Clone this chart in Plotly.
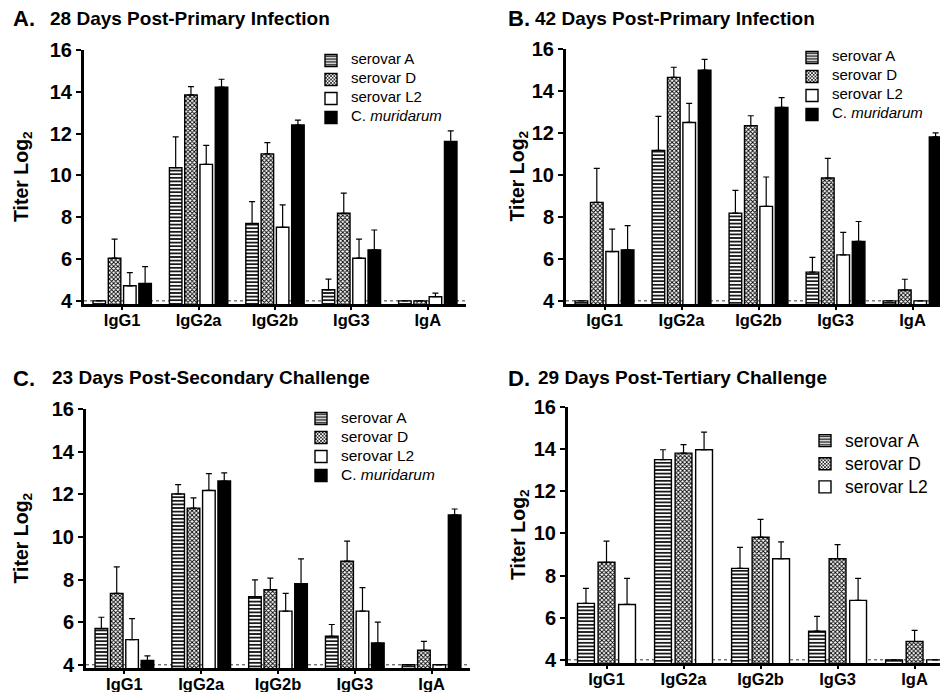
import plotly.graph_objects as go

W, H = 940, 692

categories = ["IgG1", "IgG2a", "IgG2b", "IgG3", "IgA"]
y_ticks = [4, 6, 8, 10, 12, 14, 16]

series_names = ["serovar A", "serovar D", "serovar L2", "C. <i>muridarum</i>"]

# Panel A: 28 Days Post-Primary Infection
a_serA = [4.0, 10.37, 7.70, 4.53, 4.0]
a_serA_err = [None, 1.47, 1.05, 0.51, None]
a_serD = [6.04, 13.85, 11.03, 8.19, 4.0]
a_serD_err = [0.91, 0.40, 0.54, 0.96, None]
a_serL2 = [4.72, 10.53, 7.52, 6.04, 4.2]
a_serL2_err = [0.63, 0.91, 1.07, 0.91, 0.17]
a_cmur = [4.83, 14.22, 12.41, 6.44, 11.62]
a_cmur_err = [0.81, 0.38, 0.24, 0.95, 0.51]

# Panel B: 42 Days Post-Primary Infection
b_serA = [4.0, 11.17, 8.18, 5.37, 4.0]
b_serA_err = [None, 1.62, 1.08, 0.70, None]
b_serD = [8.69, 14.65, 12.35, 9.85, 4.52]
b_serD_err = [1.62, 0.48, 0.47, 0.94, 0.51]
b_serL2 = [6.35, 12.50, 8.50, 6.19, 4.0]
b_serL2_err = [1.07, 0.91, 1.40, 1.07, None]
b_cmur = [6.43, 14.99, 13.22, 6.83, 11.81]
b_cmur_err = [1.15, 0.52, 0.46, 0.95, 0.19]

# Panel C: 23 Days Post-Secondary Challenge
c_serA = [5.70, 12.02, 7.19, 5.34, 4.0]
c_serA_err = [0.53, 0.43, 0.79, 0.55, None]
c_serD = [7.35, 11.35, 7.52, 8.86, 4.68]
c_serD_err = [1.24, 0.48, 0.55, 0.94, 0.42]
c_serL2 = [5.18, 12.18, 6.52, 6.52, 4.0]
c_serL2_err = [0.99, 0.79, 0.83, 1.10, None]
c_cmur = [4.20, 12.62, 7.81, 5.02, 11.03]
c_cmur_err = [0.22, 0.38, 1.16, 0.98, 0.28]

# Panel D: 29 Days Post-Tertiary Challenge
d_serA = [6.68, 13.50, 8.34, 5.36, 4.0]
d_serA_err = [0.71, 0.47, 1.00, 0.70, None]
d_serD = [8.63, 13.81, 9.82, 8.80, 4.87]
d_serD_err = [1.00, 0.40, 0.85, 0.67, 0.53]
d_serL2 = [6.63, 13.97, 8.80, 6.82, 4.0]
d_serL2_err = [1.24, 0.84, 0.80, 1.05, None]

FONT = "Arial, Liberation Sans, Helvetica, sans-serif"

styles = [
    dict(color="white", pattern=dict(shape="-", size=3.6, solidity=0.45, fgcolor="black", bgcolor="white", fillmode="replace")),
    dict(color="white", pattern=dict(shape="x", size=3, solidity=0.5, fgcolor="black", bgcolor="white", fillmode="replace")),
    dict(color="white"),
    dict(color="black"),
]

panels = [
    dict(letter="A.", title="28 Days Post-Primary Infection",
         data=[(a_serA, a_serA_err), (a_serD, a_serD_err), (a_serL2, a_serL2_err), (a_cmur, a_cmur_err)],
         x0=84, x1=466, xr=[-0.5, 4.5], ytop=50, ybot=304,
         lx=311, ly=46, lbase=10, ltext=15, ytx=22,
         tx_letter=11, tx_title=48, ty=19),
    dict(letter="B.", title="42 Days Post-Primary Infection",
         data=[(b_serA, b_serA_err), (b_serD, b_serD_err), (b_serL2, b_serL2_err), (b_cmur, b_cmur_err)],
         x0=566, x1=940, xr=[-0.5, 4.357], ytop=49, ybot=304,
         lx=792, ly=43, lbase=10, ltext=15, ytx=518,
         tx_letter=506, tx_title=533, ty=19),
    dict(letter="C.", title="23 Days Post-Secondary Challenge",
         data=[(c_serA, c_serA_err), (c_serD, c_serD_err), (c_serL2, c_serL2_err), (c_cmur, c_cmur_err)],
         x0=86, x1=470, xr=[-0.5, 4.5], ytop=409, ybot=668,
         lx=301, ly=404, lbase=12, ltext=15.5, ytx=22,
         tx_letter=11, tx_title=50, ty=378),
    dict(letter="D.", title="29 Days Post-Tertiary Challenge",
         data=[(d_serA, d_serA_err), (d_serD, d_serD_err), (d_serL2, d_serL2_err)],
         x0=568, x1=940, xr=[-0.5, 4.33], ytop=407, ybot=663,
         lx=805, ly=424, lbase=15.5, ltext=17.5, ytx=519,
         tx_letter=506, tx_title=536, ty=378),
]

fig = go.Figure()
annotations = []
shapes = []
layout_axes = {}

for i, p in enumerate(panels):
    n = "" if i == 0 else str(i + 1)
    xa, ya = "x" + n, "y" + n
    leg = "legend" + n
    for j, (vals, errs) in enumerate(p["data"]):
        label = '<span style="font-size:%spx">%s</span>' % (p["ltext"], series_names[j])
        fig.add_trace(go.Bar(
            x=categories, y=vals, name=label,
            xaxis=xa, yaxis=ya, legend=leg,
            marker=dict(line=dict(color="black", width=1.4), **styles[j]),
            error_y=dict(type="data", symmetric=False, array=errs,
                         arrayminus=[0] * len(errs), color="black",
                         thickness=1.2, width=3),
        ))
    layout_axes["xaxis" + n] = dict(
        domain=[p["x0"] / W, p["x1"] / W], anchor=ya, range=p["xr"],
        showline=True, linewidth=3, linecolor="black", ticks="outside",
        ticklen=3, tickwidth=2, tickcolor="black", ticklabelstandoff=-4,
        tickfont=dict(family=FONT, size=16.5, color="black", weight="bold"),
        showgrid=False, zeroline=False, fixedrange=True,
    )
    layout_axes["yaxis" + n] = dict(
        domain=[1 - p["ybot"] / H, 1 - p["ytop"] / H], anchor=xa,
        range=[3.85, 16], tickvals=y_ticks,
        showline=True, linewidth=3, linecolor="black", ticks="outside",
        ticklen=5, tickwidth=2, tickcolor="black",
        tickfont=dict(family=FONT, size=20, color="black", weight="bold"),
        showgrid=False, zeroline=False, fixedrange=True,
    )
    layout_axes[leg] = dict(
        x=p["lx"] / W, y=1 - p["ly"] / H, xanchor="left", yanchor="top",
        bgcolor="rgba(0,0,0,0)", font=dict(family=FONT, size=p["lbase"], color="black"),
        tracegroupgap=0, itemwidth=30,
    )
    shapes.append(dict(type="line", xref=xa + " domain", yref=ya, x0=0, x1=1, y0=4, y1=4,
                       line=dict(color="black", width=0.8, dash="dot"), layer="below"))
    annotations.append(dict(text="<b>" + p["letter"] + "</b>", xref="paper", yref="paper",
                            x=p["tx_letter"] / W, y=1 - p["ty"] / H, xanchor="left", yanchor="middle",
                            showarrow=False, font=dict(family=FONT, size=22, color="black")))
    annotations.append(dict(text="<b>" + p["title"] + "</b>", xref="paper", yref="paper",
                            x=p["tx_title"] / W, y=1 - (p["ty"] - 1) / H, xanchor="left", yanchor="middle",
                            showarrow=False, font=dict(family=FONT, size=19, color="black")))
    annotations.append(dict(text="<b>Titer Log<sub>2</sub></b>", xref="paper", yref="paper",
                            x=p["ytx"] / W, y=1 - ((p["ytop"] + p["ybot"]) / 2) / H,
                            xanchor="center", yanchor="middle", textangle=-90,
                            showarrow=False, font=dict(family=FONT, size=19.5, color="black")))

fig.update_layout(
    width=W, height=H, margin=dict(l=0, r=0, t=0, b=0, autoexpand=False),
    paper_bgcolor="white", plot_bgcolor="white",
    barmode="group", bargap=0.2, bargroupgap=0.18,
    showlegend=True, annotations=annotations, shapes=shapes,
    **layout_axes,
)

fig.write_html("out.html", config={"displayModeBar": False},
               post_script="document.body.style.margin='0';document.body.style.overflow='hidden';")
